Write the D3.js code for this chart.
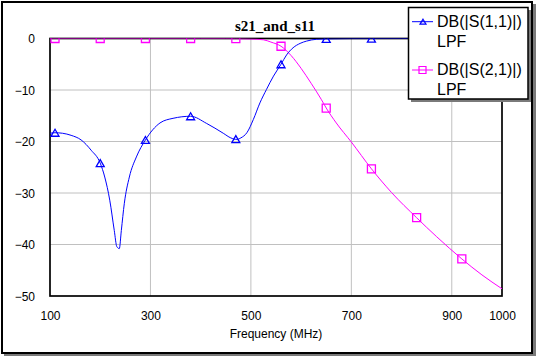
<!DOCTYPE html>
<html><head><meta charset="utf-8">
<script src="https://cdn.jsdelivr.net/npm/d3@7"></script>
<style>
body{margin:0;background:#fff;}
svg{display:block;}
text{font-family:"Liberation Sans",Arial,sans-serif;fill:#000;}
</style></head>
<body>
<script>
// ---- data ----
const title = "s21_and_s11";
const xLabel = "Frequency (MHz)";
const xTicks = [100, 300, 500, 700, 900, 1000];
const yTicks = [0, -10, -20, -30, -40, -50];
const markerFreqs = [110, 200, 290, 380, 470, 560, 650, 740, 830, 920];

const s11Freq = [100,110,125,142,162,182,200,209,219,228,233,238,242,248,258,272,290,319,345,380,412,445,460,472,480,492,505,518,531,545,560,571,584,598,611,631,650,700,800,900,1000];
const s11dB   = [-18.4,-18.3,-18.4,-18.8,-19.7,-21.7,-24.2,-26.9,-31.4,-37.3,-40.4,-40.8,-37.3,-32.0,-26.9,-23.0,-19.7,-16.4,-15.5,-15.1,-16.5,-18.4,-19.3,-19.6,-19.3,-18.3,-15.7,-12.5,-9.9,-7.3,-5.0,-3.2,-1.8,-0.95,-0.5,-0.15,-0.08,-0.02,0,0,0];

const s21Freq = [100,200,300,400,450,470,500,525,540,560,580,600,620,640,650,670,700,740,780,830,870,920,960,1000];
const s21dB   = [0,0,0,0,-0.01,-0.03,-0.1,-0.25,-0.7,-1.5,-3.3,-5.8,-8.7,-11.8,-13.5,-16.4,-20.1,-25.3,-29.9,-34.8,-38.5,-42.8,-45.9,-48.6];

const legendLabels = [["DB(|S(1,1)|)", "LPF"], ["DB(|S(2,1)|)", "LPF"]];
const colors = ["#0000ff", "#ff00ff"];

// ---- layout ----
const W = 539, H = 356;
const svg = d3.select("body").append("svg").attr("width", W).attr("height", H);

// outer frame with shadow
svg.append("rect").attr("x", 4).attr("y", 4).attr("width", 532).attr("height", 352).attr("fill", "#7a7a7a");
svg.append("rect").attr("x", 2).attr("y", 2).attr("width", 530).attr("height", 351)
  .attr("fill", "#fff").attr("stroke", "#000").attr("stroke-width", 2);

const x = d3.scaleLinear().domain([100, 1000]).range([50, 502]);
const y = d3.scaleLinear().domain([-50, 0]).range([296, 38.5]);

// grid
svg.append("g").selectAll("line").data([300, 500, 700, 900]).join("line")
  .attr("x1", d => x(d)).attr("x2", d => x(d)).attr("y1", y(0)).attr("y2", y(-50))
  .attr("stroke", "#c0c0c0").attr("stroke-width", 1);
svg.append("g").selectAll("line").data([-10, -20, -30, -40]).join("line")
  .attr("x1", x(100)).attr("x2", x(1000)).attr("y1", d => y(d)).attr("y2", d => y(d))
  .attr("stroke", "#c0c0c0").attr("stroke-width", 1);

// plot frame
svg.append("rect").attr("x", x(100)).attr("y", y(0)).attr("width", x(1000) - x(100)).attr("height", y(-50) - y(0))
  .attr("fill", "none").attr("stroke", "#000").attr("stroke-width", 1.7);

// axes
const xAxis = svg.append("g").attr("transform", `translate(0,${y(-50)})`)
  .call(d3.axisBottom(x).tickValues(xTicks).tickSize(0).tickFormat(d3.format("d")));
xAxis.select(".domain").remove();
xAxis.selectAll("text").attr("y", 24).attr("dy", 0)
  .style("font-family", "'Liberation Sans',Arial,sans-serif").style("font-size", "12px").attr("fill", "#000");

const yAxis = svg.append("g").attr("transform", `translate(${x(100)},0)`)
  .call(d3.axisLeft(y).tickValues(yTicks).tickSize(0).tickPadding(15).tickFormat(d3.format("d")));
yAxis.select(".domain").remove();
yAxis.selectAll("text").attr("dy", "0.36em")
  .style("font-family", "'Liberation Sans',Arial,sans-serif").style("font-size", "12px").attr("fill", "#000");

svg.append("text").attr("x", 276).attr("y", 337.5).attr("text-anchor", "middle")
  .style("font-size", "12px").text(xLabel);

svg.append("text").attr("x", 275).attr("y", 31).attr("text-anchor", "middle")
  .style("font-family", "'Liberation Serif','Times New Roman',serif").style("font-weight", "bold")
  .style("font-size", "15px").text(title);

// clip
svg.append("clipPath").attr("id", "plotClip").append("rect")
  .attr("x", x(100)).attr("y", y(0)).attr("width", x(1000) - x(100)).attr("height", y(-50) - y(0));

const line = d3.line().x(d => x(d[0])).y(d => y(d[1])).curve(d3.curveMonotoneX);
const s11 = s11Freq.map((f, i) => [f, s11dB[i]]);
const s21 = s21Freq.map((f, i) => [f, s21dB[i]]);

const plot = svg.append("g").attr("clip-path", "url(#plotClip)");

function interp(freqs, vals, f) {
  for (let i = 0; i < freqs.length - 1; i++) {
    if (f >= freqs[i] && f <= freqs[i + 1]) {
      const t = (f - freqs[i]) / (freqs[i + 1] - freqs[i]);
      return vals[i] + t * (vals[i + 1] - vals[i]);
    }
  }
  return vals[vals.length - 1];
}

plot.append("path").attr("d", line(s21)).attr("fill", "none").attr("stroke", colors[1]).attr("stroke-width", 1);
plot.append("path").attr("d", line(s11)).attr("fill", "none").attr("stroke", colors[0]).attr("stroke-width", 1);

const tri = (cx, cy, w, h) => `M${cx},${cy - h / 2}L${cx + w / 2},${cy + h / 2}L${cx - w / 2},${cy + h / 2}Z`;
const sq = (cx, cy, s) => `M${cx - s / 2},${cy - s / 2}h${s}v${s}h${-s}Z`;

plot.append("g").selectAll("path").data(markerFreqs).join("path")
  .attr("d", f => sq(x(f), y(interp(s21Freq, s21dB, f)), 8))
  .attr("fill", "none").attr("stroke", colors[1]).attr("stroke-width", 1.3);
plot.append("g").selectAll("path").data(markerFreqs).join("path")
  .attr("d", f => tri(x(f), y(interp(s11Freq, s11dB, f)), 8, 7))
  .attr("fill", "none").attr("stroke", colors[0]).attr("stroke-width", 1.3);

// legend
const lg = svg.append("g");
lg.append("rect").attr("x", 411).attr("y", 10).attr("width", 120).attr("height", 92).attr("fill", "#7a7a7a");
lg.append("rect").attr("x", 408.5).attr("y", 7.5).attr("width", 119.5).attr("height", 91.5)
  .attr("fill", "#fff").attr("stroke", "#000").attr("stroke-width", 1.5);
const ly = [21.7, 70];
legendLabels.forEach((lab, i) => {
  lg.append("line").attr("x1", 412).attr("x2", 433).attr("y1", ly[i]).attr("y2", ly[i])
    .attr("stroke", colors[i]).attr("stroke-width", 1);
  lg.append("path").attr("d", i === 0 ? tri(423, ly[i], 6, 5) : sq(422.5, ly[i], 7))
    .attr("fill", "none").attr("stroke", colors[i]).attr("stroke-width", 1.2);
  lg.append("text").attr("x", 437).attr("y", ly[i] + 5.3).style("font-size", "16px").text(lab[0]);
  lg.append("text").attr("x", 437).attr("y", ly[i] + 25.3).style("font-size", "16px").text(lab[1]);
});
</script>
</body></html>
